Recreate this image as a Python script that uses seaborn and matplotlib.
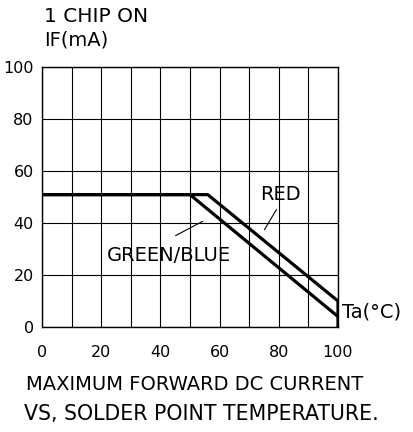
import numpy as np
import pandas as pd
import matplotlib
matplotlib.use('Agg')
import matplotlib.pyplot as plt
import seaborn as sns

# derating curves
red_ta = [0, 56, 100, 100]
red_if = [51, 51, 10, 0]
gb_ta = [0, 50, 100]
gb_if = [51, 51, 4]

x_ticks = [0, 20, 40, 60, 80, 100]
y_ticks = [0, 20, 40, 60, 80, 100]

sns.set_style("white")
plt.rcParams['font.family'] = ['DejaVu Sans']
plt.rcParams['text.color'] = 'black'
plt.rcParams['xtick.color'] = 'black'
plt.rcParams['ytick.color'] = 'black'

df = pd.concat([
    pd.DataFrame({"Ta": red_ta, "IF": red_if, "chip": "RED"}),
    pd.DataFrame({"Ta": gb_ta, "IF": gb_if, "chip": "GREEN/BLUE"}),
])

fig = plt.figure(figsize=(4.14, 4.32), dpi=100)
ax = fig.add_axes([0.1014, 0.2431, 0.715, 0.6007])

for name, g in df.groupby("chip", sort=False):
    sns.lineplot(data=g, x="Ta", y="IF", ax=ax, color="black", lw=2.3,
                 sort=False, estimator=None, legend=False)

ax.set_xlim(0, 100)
ax.set_ylim(0, 100)
ax.set_xticks(np.arange(0, 101, 10))
ax.set_yticks(y_ticks)
ax.set_xticklabels([str(v) if v in x_ticks else "" for v in range(0, 101, 10)])
ax.grid(True, color="black", lw=0.8)
ax.tick_params(length=0, labelsize=11.5, colors="black")
ax.tick_params(axis="x", pad=13)
ax.tick_params(axis="y", pad=6)
for s in ax.spines.values():
    s.set_color("black")
    s.set_linewidth(1.0)
ax.set_xlabel("")
ax.set_ylabel("")

# labels and leader lines
ax.text(80.7, 50.9, "RED", ha="center", va="center", fontsize=14)
ax.annotate("", xy=(74.7, 36.6), xytext=(79.7, 46.2),
            arrowprops=dict(arrowstyle="-", color="black", lw=0.8))
ax.text(42.9, 27.5, "GREEN/BLUE", ha="center", va="center", fontsize=14)
ax.annotate("", xy=(55.1, 41.2), xytext=(44.3, 34.7),
            arrowprops=dict(arrowstyle="-", color="black", lw=0.8))
ax.text(101.5, 5.6, "Ta(°C)", ha="left", va="center", fontsize=14,
        clip_on=False)

fig.text(44 / 414, 1 - 17 / 432, "1 CHIP ON", ha="left", va="center", fontsize=14.5)
fig.text(44 / 414, 1 - 40 / 432, "IF(mA)", ha="left", va="center", fontsize=14)
fig.text(195 / 414, 1 - 384 / 432, "MAXIMUM FORWARD DC CURRENT",
         ha="center", va="center", fontsize=14)
fig.text(201 / 414, 1 - 414 / 432, "VS, SOLDER POINT TEMPERATURE.",
         ha="center", va="center", fontsize=14.8)

plt.savefig("out.png", dpi=100)
plt.close()
